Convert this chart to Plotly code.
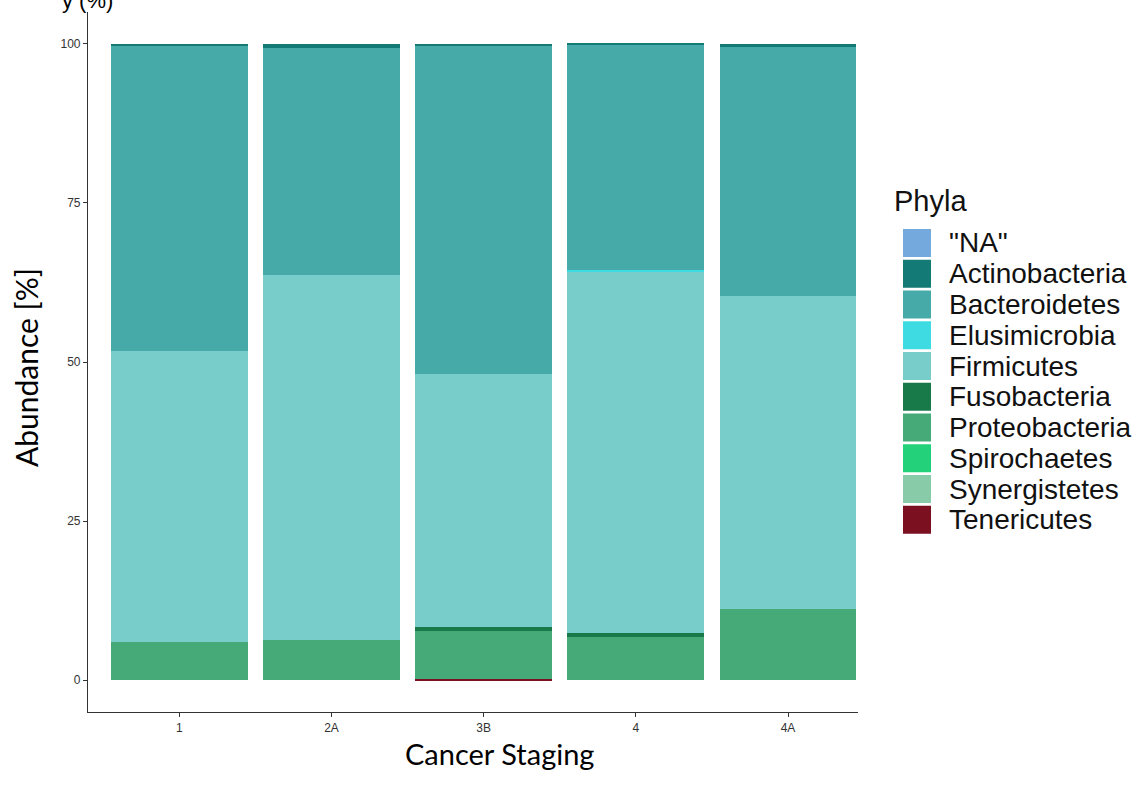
import plotly.graph_objects as go

stages = ["1", "2A", "3B", "4", "4A"]
phyla = ['"NA"', "Actinobacteria", "Bacteroidetes", "Elusimicrobia", "Firmicutes",
         "Fusobacteria", "Proteobacteria", "Spirochaetes", "Synergistetes", "Tenericutes"]
colors = ["#74A9DE", "#137A76", "#45AAA8", "#3EDCE2", "#78CDCB",
          "#177A48", "#46A978", "#22D17A", "#88CBA8", "#7B1020"]

na_vals = [0, 0, 0, 0, 0]
actinobacteria = [0.3, 0.6, 0.2, 0.1, 0.5]
bacteroidetes = [47.9, 35.7, 51.7, 35.4, 39.1]
elusimicrobia = [0, 0, 0, 0.3, 0]
firmicutes = [45.8, 57.4, 39.8, 56.8, 49.2]
fusobacteria = [0, 0, 0.6, 0.6, 0]
proteobacteria = [6.0, 6.3, 7.5, 6.8, 11.2]
spirochaetes = [0, 0, 0, 0, 0]
synergistetes = [0, 0, 0, 0, 0]
tenericutes = [0, 0, 0.2, 0, 0]

values = [na_vals, actinobacteria, bacteroidetes, elusimicrobia, firmicutes,
          fusobacteria, proteobacteria, spirochaetes, synergistetes, tenericutes]

W, H = 1145, 785
L, R, T, B = 88, 858, 12, 712  # plot area in pixels


def px(x):
    return (x - L) / (R - L)


def py(y):
    return (B - y) / (B - T)


fig = go.Figure()
# first level stacks on top (ggplot order) -> add bottom-most first
for name, vals, col in reversed(list(zip(phyla, values, colors))):
    fig.add_trace(go.Bar(x=stages, y=vals, name=name, marker=dict(color=col, line=dict(width=0)),
                         showlegend=False))

shapes = []
annotations = []
# custom legend
annotations.append(dict(text="Phyla", x=px(892), y=py(201), xref="paper", yref="paper",
                        xanchor="left", yanchor="middle", showarrow=False,
                        font=dict(family="Liberation Sans, Arial", size=29, color="#111")))
for i, (name, col) in enumerate(zip(phyla, colors)):
    top = 229 + i * 30.75
    shapes.append(dict(type="rect", xref="paper", yref="paper",
                       x0=px(903), x1=px(931), y0=py(top + 28), y1=py(top),
                       fillcolor=col, line=dict(width=0)))
    annotations.append(dict(text=name, x=px(947), y=py(top + 14), xref="paper", yref="paper",
                            xanchor="left", yanchor="middle", showarrow=False,
                            font=dict(family="Liberation Sans, Arial", size=28, color="#111")))

# axis titles
annotations.append(dict(text="Abundance [%]", x=px(26), y=py(368), xref="paper", yref="paper",
                        textangle=-90, xanchor="center", yanchor="middle", showarrow=False,
                        font=dict(family="Lato, Open Sans", size=30, color="#000")))
annotations.append(dict(text="Cancer Staging", x=px(500), y=py(753), xref="paper", yref="paper",
                        xanchor="center", yanchor="middle", showarrow=False,
                        font=dict(family="Lato, Open Sans", size=29, color="#000")))
# clipped text at top
annotations.append(dict(text="y (%)", x=px(60), y=py(0), xref="paper", yref="paper",
                        xanchor="left", yanchor="middle", showarrow=False,
                        font=dict(family="Liberation Sans, Arial", size=22, color="#000")))

fig.update_layout(
    width=W, height=H, autosize=False,
    margin=dict(l=L, r=W - R, t=T, b=H - B),
    paper_bgcolor="white", plot_bgcolor="white",
    barmode="stack", bargap=0.1,
    showlegend=False,
    shapes=shapes, annotations=annotations,
    xaxis=dict(range=[-0.6, 4.46], showgrid=False, zeroline=False,
               showline=True, linecolor="#333", linewidth=1.2,
               ticks="outside", ticklen=4, tickcolor="#333", tickwidth=1.2,
               tickfont=dict(family="Liberation Sans, Arial", size=12, color="#333")),
    yaxis=dict(range=[-5, 105], showgrid=False, zeroline=False,
               showline=True, linecolor="#333", linewidth=1.2,
               ticks="outside", ticklen=4, tickcolor="#333", tickwidth=1.2,
               tickvals=[0, 25, 50, 75, 100],
               tickfont=dict(family="Liberation Sans, Arial", size=12, color="#333")),
)

fig.write_html("out.html")
